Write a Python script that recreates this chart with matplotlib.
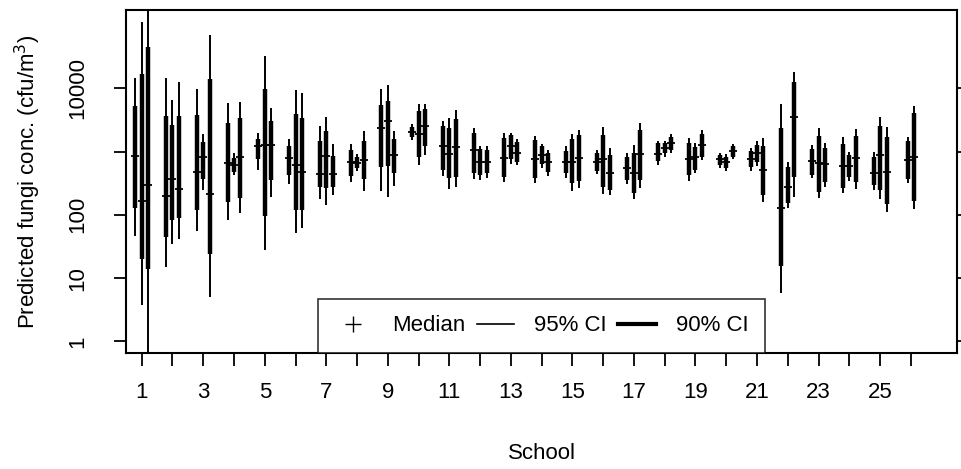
import numpy as np
import matplotlib.pyplot as plt
from matplotlib.lines import Line2D

plt.rcParams['font.family'] = ['Liberation Sans', 'DejaVu Sans']

# values read per school, 3 intervals per school (2 for school 26)
schools = list(range(1, 27))

lo95 = [[47, 3.8, 0.1], [15.1, 34, 42], [55, 251, 5.1], [84, 424, 105], [508, 28, 190],
        [312, 51, 61], [179, 145, 202], [324, 500, 242], [237, 194, 290], [1510, 615, 885],
        [417, 257, 280], [370, 357, 380], [324, 638, 615], [317, 558, 417], [388, 242, 264],
        [444, 215, 202], [305, 179, 270], [615, 832, 962], [348, 455, 745], [546, 495, 757],
        [500, 594, 162], [5.8, 127, 190], [380, 183, 274], [220, 348, 254], [248, 177, 110],
        [317, 123]]
lo90 = [[128, 20.4, 13.9], [45, 84, 87.5], [120, 374, 24], [160, 477, 183], [757, 96, 361],
        [428, 120, 120], [274, 270, 274], [417, 558, 370], [579, 594, 455], [1680, 815, 1200],
        [513, 380, 402], [465, 428, 455], [402, 757, 694], [380, 630, 477], [455, 317, 336],
        [500, 280, 248], [357, 225, 357], [712, 942, 1060], [428, 513, 832], [615, 546, 832],
        [566, 694, 207], [15.7, 155, 402], [428, 233, 332], [270, 402, 324], [298, 248, 149],
        [370, 166]]
median = [[863, 168, 301], [197, 366, 257], [482, 815, 212], [669, 617, 815], [1240, 1270, 1290],
          [785, 609, 482], [449, 863, 439], [679, 662, 738], [2360, 3050, 876], [2040, 1880, 2570],
          [1240, 918, 1180], [1040, 679, 679], [803, 1240, 962], [757, 885, 679], [679, 679, 785],
          [694, 757, 465], [558, 455, 908], [918, 1150, 1380], [766, 815, 1270], [757, 694, 1030],
          [757, 962, 513], [130, 274, 3560], [720, 669, 630], [600, 600, 785], [465, 885, 482],
          [738, 815]]
hi90 = [[5250, 16800, 45400], [3650, 2630, 3610], [3790, 1420, 14200], [2830, 795, 3400],
        [1570, 9640, 3010], [1240, 3930, 3430], [1470, 2140, 863], [1060, 832, 1470],
        [5450, 6240, 1570], [2480, 4330, 4660], [2540, 2340, 3240], [1990, 1090, 1060],
        [1630, 1830, 1410], [1530, 1200, 942], [1030, 1570, 1830], [962, 1830, 885],
        [832, 962, 2200], [1360, 1380, 1720], [1360, 1170, 1900], [885, 832, 1200],
        [1030, 1270, 1230], [2340, 566, 12400], [1090, 1770, 1130], [1320, 885, 1770],
        [832, 2540, 1720], [1470, 4030]]
hi95 = [[14400, 110000, 1e7], [14400, 6540, 12700], [9640, 1900, 70200], [5860, 955, 6080],
        [1950, 32000, 4940], [1600, 9400, 8340], [2540, 3560, 1320], [1320, 929, 2140],
        [9750, 11300, 2140], [2730, 5590, 5590], [3050, 3430, 4550], [2340, 1240, 1240],
        [1950, 1990, 1570], [1790, 1320, 1040], [1200, 1900, 2200], [1060, 2420, 1130],
        [962, 1270, 2800], [1440, 1490, 1900], [1630, 1360, 2200], [962, 918, 1320],
        [1130, 1440, 1630], [5590, 694, 17800], [1270, 2390, 1370], [1680, 977, 2250],
        [977, 3560, 2480], [1720, 5250]]

# positions: spread intervals around each school
xs, l95, l90, med, h90, h95 = [], [], [], [], [], []
for i, s in enumerate(schools):
    n = len(median[i])
    for j in range(n):
        xs.append(s + (j - (n - 1) / 2) * 0.21)
        l95.append(lo95[i][j]); l90.append(lo90[i][j]); med.append(median[i][j])
        h90.append(hi90[i][j]); h95.append(hi95[i][j])

fig = plt.figure(figsize=(9.62, 4.69), dpi=100)
ax = fig.add_axes([126/962, 1 - 353/469, (957 - 126)/962, (353 - 10)/469])

ax.vlines(xs, l95, h95, colors='black', linewidth=1.4, capstyle='butt')
ax.vlines(xs, l90, h90, colors='black', linewidth=3.2, capstyle='butt')
ax.plot(xs, med, linestyle='none', marker='+', color='black', markersize=6, markeredgewidth=1.3)

ax.set_yscale('log')
ax.set_ylim(0.656, 172000)
ax.set_xlim(0.49, 27.5)

ax.set_xticks(schools)
ax.set_xticklabels([str(s) if s % 2 == 1 else '' for s in schools], fontsize=16)
ax.set_yticks([1, 10, 100, 1000, 10000])
ax.set_yticklabels(['1', '10', '100', '', '10000'], rotation=90, va='center', fontsize=16)
ax.minorticks_off()
ax.tick_params(axis='both', direction='out', length=9, width=1.3, color='black')
ax.tick_params(axis='y', right=True, pad=18)
ax.tick_params(axis='x', pad=12)
for sp in ax.spines.values():
    sp.set_linewidth(1.5)

ax.set_xlabel('School', fontsize=16)
ax.xaxis.set_label_coords(0.5, -0.262)
ax.set_ylabel('Predicted fungi conc. (cfu/m$^3$)', fontsize=16)
ax.yaxis.set_label_coords(-0.1, 0.5)

handles = [Line2D([], [], linestyle='none', marker='+', color='black', markersize=12, markeredgewidth=1.0),
           Line2D([], [], color='black', linewidth=1.2),
           Line2D([], [], color='black', linewidth=3)]
leg = ax.legend(handles, ['Median', '95% CI', '90% CI'], loc='lower center', bbox_to_anchor=(0.5, 0),
                ncol=3, fontsize=16, frameon=True, fancybox=False, borderaxespad=0, borderpad=0.75,
                handlelength=1.7, handletextpad=0.9, columnspacing=0.5)
leg.get_frame().set_edgecolor('black')
leg.get_frame().set_linewidth(1.2)

fig.savefig('out.png', dpi=100)
